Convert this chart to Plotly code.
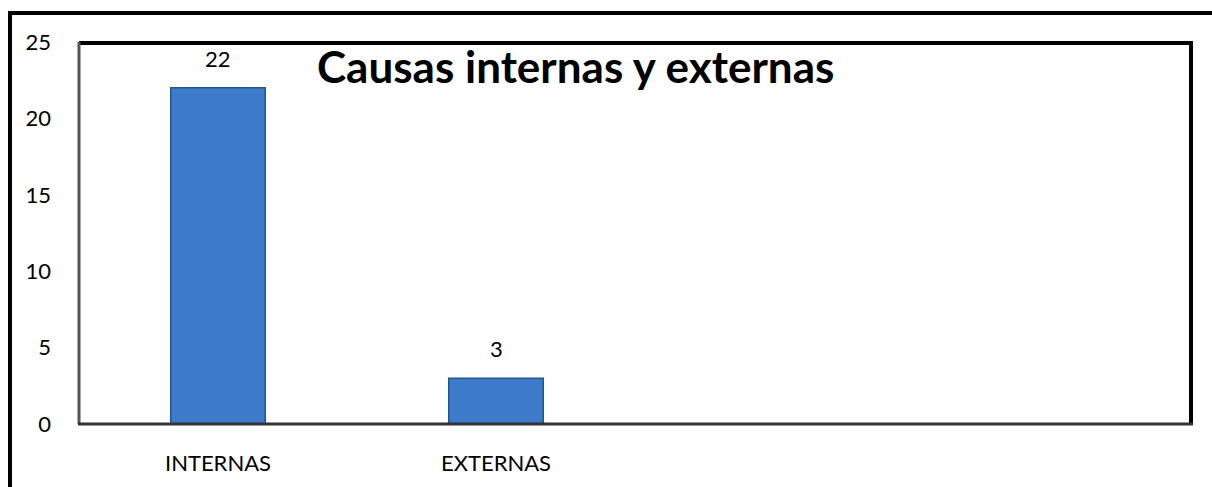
import plotly.graph_objects as go

categories = ["INTERNAS", "EXTERNAS", " ", "  "]
values = [22, 3, None, None]
y_ticks = [0, 5, 10, 15, 20, 25]
title_text = "Causas internas y externas"

FONT = "Lato"
L, R, T, B = 79, 21, 42, 63
W, H = 1212, 487
pw, ph = W - L - R, H - T - B

def px(x):
    return (x - L) / pw

def py(y):
    return (H - B - y) / ph

fig = go.Figure()
fig.add_trace(go.Bar(
    x=categories, y=values,
    marker=dict(color="#3E7BCA", line=dict(color="#24558F", width=1.5)),
    width=0.34,
))

annotations = []
for c, v in zip(categories, values):
    if v is None:
        continue
    annotations.append(dict(x=c, y=v, xref="x", yref="y", text=str(v), showarrow=False,
                            yanchor="bottom", yshift=14,
                            font=dict(family=FONT, size=22, color="#000")))
annotations.append(dict(x=px(315), y=py(66), xref="paper", yref="paper", text="<b>" + title_text + "</b>",
                        showarrow=False, xanchor="left", yanchor="middle",
                        font=dict(family=FONT, size=44, color="#000")))

shapes = [
    # outer frame
    dict(type="path", xref="paper", yref="paper",
         path=f"M {px(10)},{py(495)} L {px(10)},{py(13)} L {px(1220)},{py(13)}",
         line=dict(color="#000", width=4)),
    # plot frame top & right
    dict(type="path", xref="paper", yref="paper",
         path=f"M {px(79)},{py(43)} L {px(1191)},{py(43)} L {px(1191)},{py(424)}",
         line=dict(color="#000", width=4)),
    # left
    dict(type="line", xref="paper", yref="paper", x0=px(79), x1=px(79), y0=py(424), y1=py(42),
         line=dict(color="#555", width=3)),
    # bottom
    dict(type="line", xref="paper", yref="paper", x0=px(78), x1=px(1193), y0=py(424), y1=py(424),
         line=dict(color="#333", width=3)),
]

fig.update_layout(
    width=W, height=H,
    margin=dict(l=L, r=R, t=T, b=B),
    paper_bgcolor="white", plot_bgcolor="white",
    showlegend=False,
    bargap=0.66,
    xaxis=dict(type="category", showgrid=False, showline=False, ticks="",
               tickfont=dict(family=FONT, size=22, color="#000"), ticklabelstandoff=24,
               range=[-0.5, 3.5]),
    yaxis=dict(range=[0, 25], tickvals=y_ticks, showgrid=False, showline=False, ticks="",
               zeroline=False,
               tickfont=dict(family=FONT, size=22, color="#000"), ticklabelstandoff=27),
    annotations=annotations,
    shapes=shapes,
)

fig.write_html("out.html")
